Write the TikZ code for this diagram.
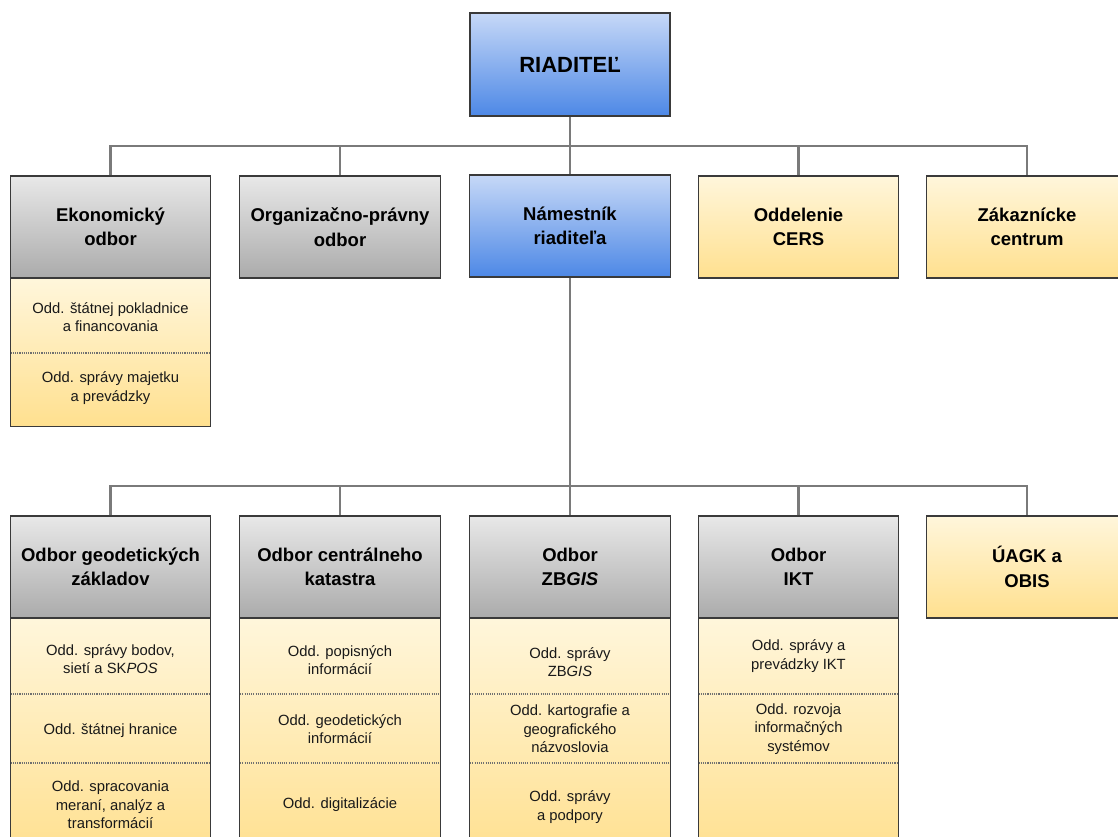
\documentclass[tikz,border=0pt]{standalone}
\usepackage{fontspec}
\setmainfont{Liberation Sans}
\definecolor{blueTop}{HTML}{C6D8F7}
\definecolor{blueBot}{HTML}{4D88E6}
\definecolor{grayTop}{HTML}{E8E8E8}
\definecolor{grayBot}{HTML}{ABABAB}
\definecolor{yelTop}{HTML}{FFF6DB}
\definecolor{yelBot}{HTML}{FFE08F}
\definecolor{boxline}{HTML}{3A3A3A}
\definecolor{conngray}{HTML}{7A7A7A}
\definecolor{sepgray}{HTML}{707070}
\tikzset{
  hdr/.style={draw=boxline, line width=1.3pt, minimum width=200.5pt, minimum height=102pt,
    inner sep=0pt, align=center, font=\fontsize{18.5}{24.5}\selectfont\bfseries, text=black},
  bluebox/.style={hdr, top color=blueTop, bottom color=blueBot},
  graybox/.style={hdr, top color=grayTop, bottom color=grayBot},
  yelbox/.style={hdr, top color=yelTop, bottom color=yelBot},
  subcol/.style={draw=boxline, line width=1.3pt, minimum width=200.5pt, inner sep=0pt,
    top color=yelTop, bottom color=yelBot, anchor=north},
  subtxt/.style={align=center, font=\fontsize{14.8}{18.5}\selectfont, inner sep=0pt, text=black!90},
  sepline/.style={draw=sepgray, line width=1.6pt, dash pattern=on 1.1pt off 1.1pt},
  conn/.style={draw=conngray, line width=2.2pt}
}
\begin{document}
\begin{tikzpicture}[x=1pt,y=-1pt]
\useasboundingbox (0,0) rectangle (1118,837);
\clip (0,0) rectangle (1118,837);
\fill[white] (0,0) rectangle (1118,837);
% sub columns (behind headers)
\node[subcol, minimum height=148pt] (ekS) at (110.5,278) {};
\node[subcol, minimum height=240pt] (geoS) at (110.5,618) {};
\node[subcol, minimum height=240pt] (katS) at (340,618) {};
\node[subcol, minimum height=240pt] (zbS) at (570,618) {};
\node[subcol, minimum height=240pt] (iktS) at (798.5,618) {};
% top
\node[bluebox, minimum width=200pt, minimum height=103pt, font=\fontsize{22}{26}\selectfont\bfseries] (riad) at (570,64.5) {RIADITEĽ};
% row 1
\node[graybox] (ek) at (110.5,227) {Ekonomický\\odbor};
\node[graybox] (org) at (340,227) {Organizačno-právny\\odbor};
\node[bluebox] (nam) at (570,226) {Námestník\\riaditeľa};
\node[yelbox] (cers) at (798.5,227) {Oddelenie\\CERS};
\node[yelbox] (zak) at (1027,227) {Zákaznícke\\centrum};
% row 2
\node[graybox] (geo) at (110.5,567) {Odbor geodetických\\základov};
\node[graybox] (kat) at (340,567) {Odbor centrálneho\\katastra};
\node[graybox] (zb) at (570,567) {Odbor\\ZB\textit{GIS}};
\node[graybox] (ikt) at (798.5,567) {Odbor\\IKT};
\node[yelbox] (uagk) at (1027,567) {ÚAGK a\\OBIS};
% separators
\draw[sepline] ([xshift=1pt]ekS.west |- 0,353) -- ([xshift=-1pt]ekS.east |- 0,353);
\foreach \c in {geoS,katS,zbS,iktS}{
  \draw[sepline] ([xshift=1pt]\c.west |- 0,694) -- ([xshift=-1pt]\c.east |- 0,694);
  \draw[sepline] ([xshift=1pt]\c.west |- 0,763) -- ([xshift=-1pt]\c.east |- 0,763);
}
% sub texts
\node[subtxt] (ek1) at (110.5,317) {Odd. štátnej pokladnice\\a financovania};
\node[subtxt] (ek2) at (110.5,388) {Odd. správy majetku\\a prevádzky};
\node[subtxt] (geo1) at (110.5,659) {Odd. správy bodov,\\sietí a SK\textit{POS}};
\node[subtxt] (geo2) at (110.5,731) {Odd. štátnej hranice};
\node[subtxt] (geo3) at (110.5,805) {Odd. spracovania\\meraní, analýz a\\transformácií};
\node[subtxt] (kat1) at (340,660) {Odd. popisných\\informácií};
\node[subtxt] (kat2) at (340,729) {Odd. geodetických\\informácií};
\node[subtxt] (kat3) at (340,805) {Odd. digitalizácie};
\node[subtxt] (zb1) at (570,662) {Odd. správy\\ZB\textit{GIS}};
\node[subtxt] (zb2) at (570,729) {Odd. kartografie a\\geografického\\názvoslovia};
\node[subtxt] (zb3) at (570,807) {Odd. správy\\a podpory};
\node[subtxt] (ikt1) at (798.5,656) {Odd. správy a\\prevádzky IKT};
\node[subtxt] (ikt2) at (798.5,729) {Odd. rozvoja\\informačných\\systémov};
% connectors
\coordinate (j1) at (570,146);
\coordinate (j2) at (570,486);
\draw[conn] (riad.south) -- (nam.north);
\draw[conn] (ek.north) |- (j1) -| (zak.north);
\draw[conn] (org.north) -- (org.north |- j1);
\draw[conn] (cers.north) -- (cers.north |- j1);
\draw[conn] (nam.south) -- (zb.north);
\draw[conn] (geo.north) |- (j2) -| (uagk.north);
\draw[conn] (kat.north) -- (kat.north |- j2);
\draw[conn] (ikt.north) -- (ikt.north |- j2);
\end{tikzpicture}
\end{document}
